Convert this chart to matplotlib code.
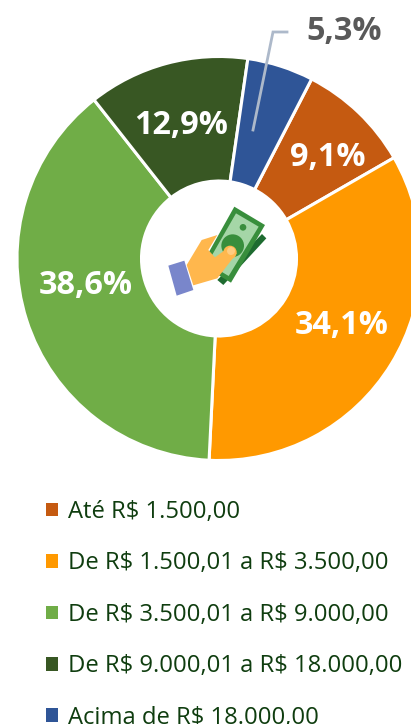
import matplotlib
matplotlib.use("Agg")
import matplotlib.pyplot as plt
from matplotlib.patches import Polygon, Circle

W, H = 411, 724
categories = [r"Até R\$ 1.500,00", r"De R\$ 1.500,01 a R\$ 3.500,00", r"De R\$ 3.500,01 a R\$ 9.000,00",
              r"De R\$ 9.000,01 a R\$ 18.000,00", r"Acima de R\$ 18.000,00"]
values = [9.1, 34.1, 38.6, 12.9, 5.3]
labels = ["9,1%", "34,1%", "38,6%", "12,9%", "5,3%"]
colors = ["#C55A11", "#FF9900", "#70AD47", "#385723", "#2F5597"]

plt.rcParams["font.family"] = ["Open Sans", "Noto Sans", "DejaVu Sans"]
fig = plt.figure(figsize=(W / 100, H / 100), dpi=100)
ax = fig.add_axes([0, 0, 1, 1])

cx, cy, R, r = 219, H - 258.5, 202, 77.5
wedges, _ = ax.pie(values, colors=colors, startangle=62.7, counterclock=False, center=(cx, cy), radius=R,
                   frame=True, wedgeprops=dict(width=R - r, edgecolor="white", linewidth=2.2))
ax.set_xlim(0, W)
ax.set_ylim(0, H)
ax.set_aspect("equal")
ax.axis("off")

def y(v):
    return H - v

label_pos = [(328, 157, "white"), (342, 325, "white"), (86, 286, "white"), (181, 125, "white"), (344, 32, "#595959")]
for t, (px, py, c) in zip(labels, label_pos):
    ax.text(px, y(py), t, color=c, fontsize=23.3, fontweight="bold", ha="center", va="center")

# leader line
ax.plot([253, 273, 287], [y(130), y(32), y(32)], color="#ADB9CA", lw=2, solid_joinstyle="miter", zorder=6)

# legend
leg = ax.legend(wedges, categories, loc="upper left", bbox_to_anchor=(46 / W, 1 - 500 / H), frameon=False,
                fontsize=17.15, labelcolor="#0F3D0F", handlelength=0.5, handleheight=0.5, handletextpad=0.44,
                labelspacing=1.15, borderpad=0, borderaxespad=0)
for h in leg.legend_handles:
    h.set_linewidth(0)

# central icon (pixel positions)
def z(points):
    return [(130 + a / 3, H - (170 + b / 3)) for a, b in points]

def poly(points, color, order):
    ax.add_patch(Polygon(z(points), closed=True, fc=color, ec="none", zorder=order))

def circ(a, b, rad, color, order):
    (pa, pb), = z([(a, b)])
    ax.add_patch(Circle((pa, pb), rad / 3, fc=color, ec="none", zorder=order))

poly([(396, 192), (409, 205), (280, 345), (262, 330)], "#1E6B30", 7)
poly([(313, 110), (405, 165), (303, 338), (215, 285)], "#388E3C", 8)
poly([(318, 130), (386, 170), (296, 318), (232, 280)], "#A5D6A7", 9)
circ(308, 227, 34, "#388E3C", 10)
circ(339, 172, 10, "#388E3C", 10)
poly([(170, 285), (215, 210), (262, 195), (235, 240), (255, 262), (296, 232), (320, 250), (262, 325), (190, 346)],
     "#FFB74D", 11)
circ(300, 247, 20, "#FFB74D", 11)
circ(303, 243, 12, "#FFCC80", 12)
poly([(115, 287), (163, 272), (190, 360), (140, 377)], "#7986CB", 12)

fig.savefig("out.png", dpi=100)
